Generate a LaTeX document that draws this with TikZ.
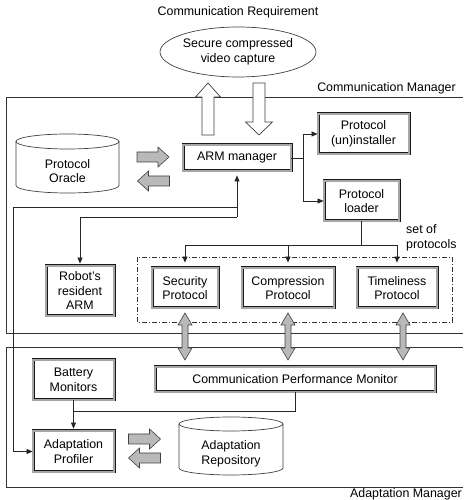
\documentclass[tikz,border=0pt]{standalone}
\usepackage{fontspec}
\setmainfont{Liberation Sans}
\usetikzlibrary{arrows.meta,shapes.geometric}
\begin{document}
\begin{tikzpicture}[x=1pt,y=1pt,
  font=\fontsize{12.4}{14.5}\selectfont,
  dbox/.style={draw=black!90, line width=0.8pt, double=gray!70, double distance=1.4pt, fill=white, inner sep=0pt, align=center},
  mgrframe/.style={draw=black!80, line width=0.9pt},
  conn/.style={draw=black!85, line width=0.7pt},
  arr/.style={-{Triangle[length=6pt,width=5pt]}},
  garrow/.style={draw=black!75, fill=gray!55, line width=0.6pt},
  harrow/.style={draw=black!75, fill=white, line width=0.7pt},
  cyl/.style={draw=black!75, line width=0.7pt},
  rgarrow/.pic={\path[garrow] (-16,-5) -- (5,-5) -- (5,-10) -- (16,0) -- (5,10) -- (5,5) -- (-16,5) -- cycle;},
  vgarrow/.pic={\path[garrow] (0,23.5) -- (7,11.5) -- (3,11.5) -- (3,-11.5) -- (7,-11.5) -- (0,-23.5) -- (-7,-11.5) -- (-3,-11.5) -- (-3,11.5) -- (-7,11.5) -- cycle;},
  uparrow/.pic={\path[harrow] (0,26) -- (12.5,12) -- (6,12) -- (6,-26) -- (-6,-26) -- (-6,12) -- (-12.5,12) -- cycle;},
  downarrow/.pic={\path[harrow] (0,-26) -- (13.5,-13) -- (6,-13) -- (6,26) -- (-6,26) -- (-6,-13) -- (-13.5,-13) -- cycle;}
]
\useasboundingbox (0,0) rectangle (463,500);

% manager frames
\draw[mgrframe] (463,403) -- (6,403) -- (6,167) -- (463,167);
\draw[mgrframe] (463,153) -- (6,153) -- (6,13) -- (463,13);
\node[anchor=east, inner sep=0pt] (cmlab) at (456,412) {Communication Manager};
\node[anchor=east, inner sep=0pt] (amlab) at (462,6) {Adaptation Manager};

% requirement
\node (req) at (238,488) {Communication Requirement};
\node[draw=black!75, ellipse, minimum width=149pt, minimum height=50pt, inner sep=0pt, align=center, line width=0.7pt] (video) at (238,448) {Secure compressed\\video capture};
\pic at (208,391) {uparrow};
\pic at (259,391) {downarrow};

% communication manager boxes
\node[dbox, minimum width=108pt, minimum height=26pt] (arm) at (237,342) {ARM manager};
\node[dbox, minimum width=91pt, minimum height=40pt] (uninst) at (363.5,366) {Protocol\\(un)installer};
\node[dbox, minimum width=75pt, minimum height=40pt] (loader) at (361.5,299) {Protocol\\loader};
\node[dbox, minimum width=68pt, minimum height=50pt] (robot) at (80,209) {Robot's\\resident\\ARM};
\draw[line width=0.7pt, draw=black!80, dash pattern=on 5pt off 2pt on 1pt off 2pt] (137,243) rectangle (452,178);
\node[dbox, minimum width=66pt, minimum height=40pt] (sec) at (185,212) {Security\\Protocol};
\node[dbox, minimum width=92pt, minimum height=40pt] (comp) at (288,212) {Compression\\Protocol};
\node[dbox, minimum width=80pt, minimum height=40pt] (time) at (397,212) {Timeliness\\Protocol};
\node[anchor=west, align=left, inner sep=0pt] (setlab) at (406,262) {set of\\protocols};

% protocol oracle cylinder
\draw[cyl, fill=white] (16,358.5) -- (16,314.5) arc[start angle=180, end angle=360, x radius=51.5, y radius=7.5] -- (119,358.5);
\draw[cyl] (67.5,358.5) ellipse [x radius=51.5, y radius=7.5];
\node[align=center] (oracle) at (67.5,329) {Protocol\\Oracle};
\pic at (153,343) {rgarrow};
\pic[xscale=-1] at (153.5,319) {rgarrow};

% connectors (communication manager)
\coordinate (br) at (303,342);
\draw[conn] (arm.east) -- (br);
\draw[conn,arr] (br) |- (uninst.west);
\draw[conn,arr] (br) |- (loader.west);
\coordinate (pj) at (361.5,255);
\draw[conn] (loader.south) -- (pj);
\draw[conn] (sec.north |- pj) -- (time.north |- pj);
\draw[conn,arr,shorten >=5pt] (sec.north |- pj) -- (sec.north);
\draw[conn,arr,shorten >=5pt] (comp.north |- pj) -- (comp.north);
\draw[conn,arr,shorten >=5pt] (time.north |- pj) -- (time.north);
\coordinate (ja) at (237,283);
\coordinate (jb) at (237,293);
\coordinate (lc) at (13,293);
\draw[conn,arr,shorten >=4pt] (ja) -- (arm.south);
\draw[conn,arr,shorten >=2pt] (ja) -| (robot.north);

% adaptation manager
\node[dbox, minimum width=81pt, minimum height=40pt] (battery) at (73.5,120) {Battery\\Monitors};
\node[dbox, minimum width=280pt, minimum height=25pt] (cpm) at (295,120.5) {Communication Performance Monitor};
\node[dbox, minimum width=81pt, minimum height=41pt] (ap) at (73.5,48.5) {Adaptation\\Profiler};
\draw[conn,arr] (jb) -- (lc) |- (ap.west);
\coordinate (cb) at (295,89);
\draw[conn] (cpm.south) -- (cb) -- (cb -| battery.south);
\draw[conn,arr,shorten >=2pt] (battery.south) -- (ap.north);

\pic at (185,163.5) {vgarrow};
\pic at (288,163.5) {vgarrow};
\pic at (403,163.5) {vgarrow};

% adaptation repository cylinder
\draw[cyl, fill=white] (179,76) -- (179,32) arc[start angle=180, end angle=360, x radius=52, y radius=7] -- (283,76);
\draw[cyl] (231,76) ellipse [x radius=52, y radius=7];
\node[align=center] (repo) at (231,46) {Adaptation\\Repository};
\pic at (144.5,61) {rgarrow};
\pic[xscale=-1] at (144.5,42) {rgarrow};
\end{tikzpicture}
\end{document}
